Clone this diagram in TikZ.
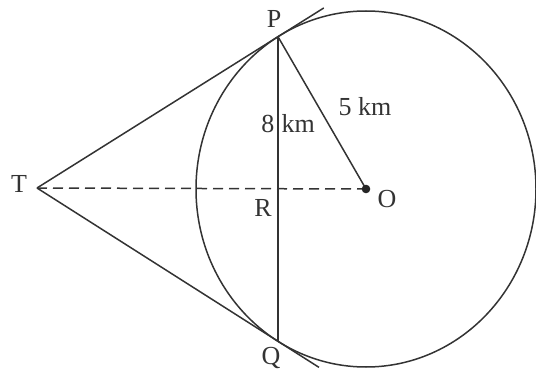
\documentclass[tikz,border=0pt]{standalone}
\usepackage{fontspec}
\setmainfont{Liberation Serif}
\usetikzlibrary{calc}
\begin{document}
\begin{tikzpicture}[x=1pt,y=-1pt,
  lbl/.style={font=\fontsize{26}{30}\selectfont, inner sep=0pt, text=black!80},
  edge/.style={line width=1.5pt, draw=black!80},
  axis/.style={line width=1.5pt, draw=black!80, dash pattern=on 10pt off 6pt}]
\useasboundingbox (0,0) rectangle (536,374);
\coordinate (O) at (366,189);
\coordinate (T) at (37,188);
\coordinate (P) at (278,36.7);
\coordinate (Q) at (278,341.3);
\coordinate (R) at (278,188.5);
\coordinate (Pe) at ($(T)!1.19!(P)$);
\coordinate (Qe) at ($(T)!1.17!(Q)$);
% circle
\draw[edge] (O) ellipse [x radius=170, y radius=178];
% tangents
\draw[edge] (T) -- (P) -- (Pe);
\draw[edge] (T) -- (Q) -- (Qe);
% chord and radius
\draw[edge] (P) -- (Q);
\draw[edge] (P) -- (O);
% axis
\draw[axis] (T) -- (O);
\fill[black!85] (O) circle (4.3);
% labels
\node[lbl] (lP) at (274,19) {P};
\node[lbl] (lQ) at (271,358) {Q};
\node[lbl] (lT) at (19,184) {T};
\node[lbl] (lO) at (387,199) {O};
\node[lbl] (lR) at (263,208) {R};
\node[lbl] (l5) at (365,107) {5 km};
\node[lbl, anchor=base east] (l8) at (274.5,133) {8};
\node[lbl, anchor=base west] (lkm) at (281.5,133) {km};
\end{tikzpicture}
\end{document}
